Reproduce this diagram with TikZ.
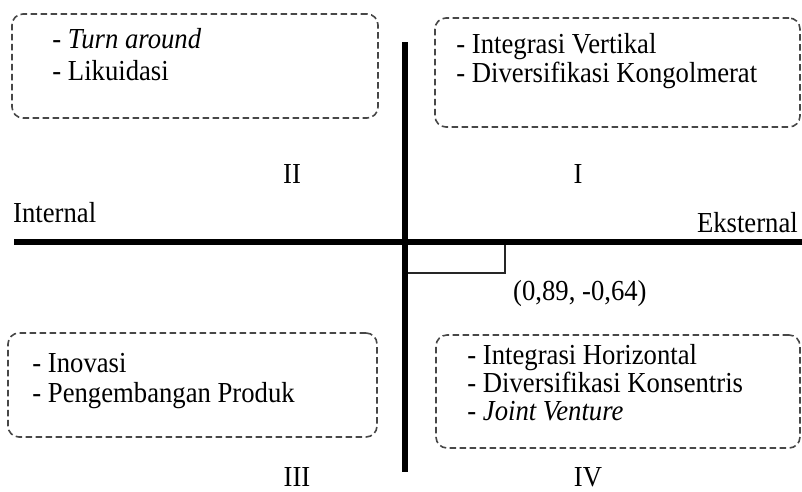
\documentclass[tikz,border=0pt]{standalone}
\usepackage{fontspec}
\setmainfont{Liberation Serif}[FakeStretch=0.92]
\usetikzlibrary{calc}

\begin{document}
\begin{tikzpicture}[x=1pt, y=-1pt,
    quad/.style={draw=black!72, line width=1.6pt, dash pattern=on 6.5pt off 3.5pt,
      rounded corners=11pt, inner sep=0pt},
    items/.style={font=\fontsize{29}{#1}\selectfont, align=left,
      anchor=north west, inner sep=0pt},
    items/.default=29,
    lbl/.style={font=\fontsize{29}{30}\selectfont, inner sep=0pt},
    axis/.style={line width=5.5pt}]
  \useasboundingbox (0,0) rectangle (802,491);

  % the two axes
  \coordinate (W) at (14,242);
  \coordinate (E) at (802,242);
  \coordinate (N) at (405,42);
  \coordinate (S) at (405,472);
  \coordinate (O) at (405,242);
  \coordinate (C) at (505,273);

  \draw[line width=1.4pt, black!85] (O) rectangle (C);
  \draw[axis] (W) -- (E);
  \draw[axis] (N) -- (S);

  \draw (13,222) node[lbl, anchor=base west] (int) {Internal};
  \draw (798,232) node[lbl, anchor=base east] (eks) {Eksternal};
  \draw (513,300) node[lbl, anchor=base west] (pos) {(0,89, -0,64)};

  % quadrant boxes
  \node[quad, minimum width=366, minimum height=104] (boxII) at (195,66) {};
  \node[quad, minimum width=365, minimum height=109] (boxI) at (617.5,72.5) {};
  \node[quad, minimum width=369, minimum height=104] (boxIII) at (192.5,385) {};
  \node[quad, minimum width=364, minimum height=113] (boxIV) at (618,391.5) {};

  \node[items=32] (listII) at ($(boxII.north west)+(41,14.5)$)
    {- \textit{Turn around}\\- Likuidasi};
  \node[items=28.5] (listI) at ($(boxI.north west)+(22,16.2)$)
    {- Integrasi Vertikal\\- Diversifikasi Kongolmerat};
  \node[items=30] (listIII) at ($(boxIII.north west)+(25,20.8)$)
    {- Inovasi\\- Pengembangan Produk};
  \node[items=28] (listIV) at ($(boxIV.north west)+(32,10.2)$)
    {- Integrasi Horizontal\\- Diversifikasi Konsentris\\- \textit{Joint Venture}};

  % quadrant numbers
  \draw (578,183) node[lbl, anchor=base] (qI) {I};
  \draw (292,183) node[lbl, anchor=base] (qII) {II};
  \draw (297,486) node[lbl, anchor=base, text depth=0pt] (qIII) {III};
  \draw (588,486) node[lbl, anchor=base, text depth=0pt] (qIV) {IV};
\end{tikzpicture}
\end{document}
